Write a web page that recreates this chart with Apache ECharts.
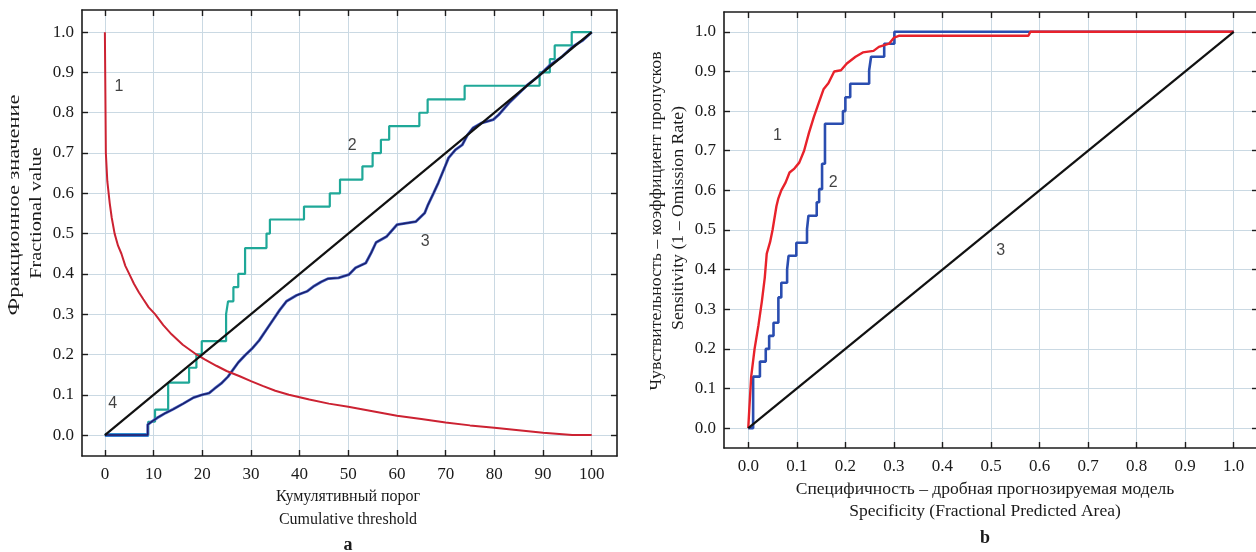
<!DOCTYPE html>
<html>
<head>
<meta charset="utf-8">
<script src="https://cdn.jsdelivr.net/npm/echarts@6/dist/echarts.min.js"></script>
<style>
html,body{margin:0;padding:0;background:#fff;}
#main{width:1256px;height:552px;}
</style>
</head>
<body>
<div id="main"></div>
<script>
// ---------- DATA ----------
const leftXTicks = [0,10,20,30,40,50,60,70,80,90,100];
const leftYTicks = [0,0.1,0.2,0.3,0.4,0.5,0.6,0.7,0.8,0.9,1.0];
const rightXTicks = [0,0.1,0.2,0.3,0.4,0.5,0.6,0.7,0.8,0.9,1.0];
const rightYTicks = [0,0.1,0.2,0.3,0.4,0.5,0.6,0.7,0.8,0.9,1.0];

// Panel a: curve 1 (red, fractional value)
const aCurve1 = [[0,1],[0.1,0.85],[0.2,0.7],[0.5,0.63],[1,0.575],[1.4,0.54],[2,0.5],[2.7,0.47],[3.4,0.45],[4.2,0.42],[5,0.4],[6,0.375],[7,0.354],[7.9,0.337],[9,0.317],[10.3,0.3],[12,0.273],[13.7,0.25],[16,0.224],[18.8,0.2],[20.5,0.188],[22.9,0.172],[25,0.159],[27.7,0.146],[30,0.134],[32.4,0.122],[35,0.11],[37.8,0.1],[42,0.088],[46,0.078],[50,0.07],[55,0.059],[60,0.048],[65,0.04],[70,0.031],[75,0.024],[80,0.018],[85,0.012],[90,0.006],[94,0.002],[96,0],[100,0]];
// Panel a: curve 2 (teal, step: [x where value jumps, new value])
const aCurve2 = [[0,0],[8.9,0.033],[10.3,0.063],[13,0.13],[17.3,0.167],[18.8,0.2],[19.9,0.233],[24.9,0.3],[25.3,0.332],[26.4,0.367],[27.4,0.4],[28.8,0.464],[33.2,0.5],[33.9,0.535],[40.9,0.567],[46.2,0.6],[48.3,0.634],[52.9,0.667],[55,0.7],[56.7,0.733],[58.4,0.767],[64.6,0.8],[66.3,0.833],[73.9,0.867],[89.3,0.9],[91.4,0.933],[92.4,0.967],[95.9,1.0],[100,1.0]];
// Panel a: curve 3 (navy)
const aCurve3 = [[0,0],[8.8,0],[8.8,0.026],[9.7,0.034],[10.8,0.043],[12.5,0.055],[14,0.064],[16.1,0.078],[18.2,0.093],[20,0.1],[21.4,0.104],[22.5,0.115],[23.9,0.128],[25.3,0.145],[26,0.157],[27.4,0.18],[28.8,0.198],[30.2,0.214],[31.7,0.235],[33.1,0.26],[34.5,0.285],[35.9,0.31],[37.3,0.332],[39.4,0.347],[41.6,0.357],[43,0.37],[44.4,0.38],[45.8,0.388],[48,0.39],[50.1,0.398],[51.5,0.415],[53.6,0.427],[54.7,0.452],[55.7,0.478],[57.9,0.493],[60,0.522],[63.9,0.53],[65.7,0.551],[66.4,0.572],[67.5,0.6],[68.5,0.626],[69.9,0.667],[70.6,0.688],[72,0.708],[73.4,0.72],[74.5,0.745],[75.6,0.762],[77.3,0.774],[79.8,0.783],[80.9,0.795],[83,0.824],[84.8,0.845],[86.9,0.87],[89,0.89],[91.5,0.919],[94,0.94],[96.1,0.964],[98.2,0.98],[100,1]];
// Panel a: light-blue baseline segment
const aBase = [[0,0],[9,0]];
// Panel a: curve 4 (black diagonal)
const aCurve4 = [[0,0],[100,1]];
// Panel a: curve number labels [x, y, text]
const aLabels = [[2.9,0.865,'1'],[50.8,0.718,'2'],[65.8,0.479,'3'],[1.6,0.078,'4']];

// Panel b: curve 1 (red ROC)
const bCurve1 = [[0,0],[0.002,0.046],[0.006,0.13],[0.013,0.2],[0.021,0.26],[0.028,0.32],[0.034,0.38],[0.038,0.44],[0.045,0.47],[0.05,0.5],[0.058,0.56],[0.062,0.58],[0.068,0.6],[0.077,0.62],[0.085,0.645],[0.095,0.655],[0.105,0.67],[0.115,0.7],[0.125,0.745],[0.135,0.785],[0.145,0.82],[0.155,0.855],[0.165,0.87],[0.177,0.9],[0.191,0.903],[0.203,0.92],[0.221,0.937],[0.236,0.948],[0.258,0.952],[0.269,0.962],[0.29,0.97],[0.3,0.985],[0.31,0.99],[0.577,0.99],[0.581,1.0],[1.0,1.0]];
// Panel b: curve 2 (blue, step)
const bCurve2 = [[0,0],[0.01,0.13],[0.024,0.168],[0.036,0.2],[0.043,0.233],[0.052,0.266],[0.062,0.33],[0.068,0.367],[0.08,0.4],[0.083,0.435],[0.099,0.468],[0.121,0.502],[0.124,0.536],[0.141,0.57],[0.146,0.603],[0.152,0.667],[0.158,0.768],[0.195,0.8],[0.2,0.835],[0.21,0.869],[0.249,0.903],[0.253,0.937],[0.28,0.97],[0.301,1.0],[1.0,1.0]];
// Panel b: curve 3 (black diagonal)
const bCurve3 = [[0,0],[1,1]];
const bLabels = [[0.06,0.737,'1'],[0.175,0.62,'2'],[0.52,0.447,'3']];

// Titles
const aXTitle = ['Кумулятивный порог','Cumulative threshold'];
const aYTitle = ['Фракционное значение','Fractional value'];
const bXTitle = ['Специфичность – дробная прогнозируемая модель','Specificity (Fractional Predicted Area)'];
const bYTitle = ['Чувствительность – коэффициент пропусков','Sensitivity (1 – Omission Rate)'];
const panelTags = ['a','b'];

// ---------- CHART ----------
const serif = '"Liberation Serif","Times New Roman",serif';
const sans = '"Liberation Sans",Arial,sans-serif';
const frameColor = '#1c1c1c';
const gridColor = '#cad9e3';

function axis(kind, gridIndex, min, max, ticks, fmt, position, main) {
  return {
    type: 'value', gridIndex, min, max, position,
    axisLine: {show: true, onZero: false, lineStyle: {color: frameColor, width: 1.6}},
    axisTick: {show: true, inside: true, length: 6, customValues: ticks, lineStyle: {color: frameColor, width: 1.4}},
    axisLabel: {show: main, customValues: ticks, formatter: fmt, fontFamily: serif, fontSize: 17, color: '#1a1a1a',
      margin: kind === 'x' ? 10 : 8},
    splitLine: {show: main, lineStyle: {color: gridColor, width: 1}},
    silent: true
  };
}
const f0 = v => String(Math.round(v));
const f1 = v => v.toFixed(1);

const chart = echarts.init(document.getElementById('main'), null, {renderer: 'canvas'});

function line(name, xi, data, color, width, step, z) {
  return {type: 'line', name, xAxisIndex: xi, yAxisIndex: xi, data, showSymbol: false, symbol: 'none',
    step: step || false, lineStyle: {color, width}, z: z || 2, silent: true, animation: false};
}
function labels(xi, data) {
  return {type: 'scatter', xAxisIndex: xi, yAxisIndex: xi, data, symbolSize: 1,
    itemStyle: {color: 'transparent'}, z: 10, silent: true,
    label: {show: true, position: 'inside', formatter: p => p.data[2], fontFamily: sans, fontSize: 16, color: '#111'}};
}
function vtext(x, y, text, scale) {
  return {type: 'text', x, y, rotation: Math.PI / 2, scaleX: scale, scaleY: 1, silent: true,
    style: {text, fontFamily: serif, fontSize: 16, fill: '#1a1a1a', align: 'center', verticalAlign: 'middle'}};
}
function htext(x, y, text, size, bold) {
  return {type: 'text', x, y, silent: true,
    style: {text, fontFamily: serif, fontSize: size, fontWeight: bold ? 'bold' : 'normal', fill: '#1a1a1a', align: 'center', verticalAlign: 'middle'}};
}

chart.setOption({
  animation: false,
  backgroundColor: '#fff',
  grid: [
    {left: 82, right: 639, top: 10, bottom: 96, outerBoundsMode: 'none', containLabel: false},
    {left: 724, right: -2, top: 12, bottom: 104, outerBoundsMode: 'none', containLabel: false}
  ],
  xAxis: [
    axis('x', 0, -4.7, 105.2, leftXTicks, f0, 'bottom', true),
    axis('x', 1, -0.05, 1.05, rightXTicks, f1, 'bottom', true),
    axis('x', 0, -4.7, 105.2, leftXTicks, f0, 'top', false),
    axis('x', 1, -0.05, 1.05, rightXTicks, f1, 'top', false)
  ],
  yAxis: [
    axis('y', 0, -0.052, 1.055, leftYTicks, f1, 'left', true),
    axis('y', 1, -0.05, 1.05, rightYTicks, f1, 'left', true),
    axis('y', 0, -0.052, 1.055, leftYTicks, f1, 'right', false),
    axis('y', 1, -0.05, 1.05, rightYTicks, f1, 'right', false)
  ],
  series: [
    line('a2', 0, aCurve2, '#1fa898', 2.2, 'end', 2),
    line('a0', 0, aBase, '#2a9fd8', 4, false, 3),
    line('a3h', 0, aCurve3, '#4662c2', 2.8, false, 3),
    line('a3', 0, aCurve3, '#1a1f6a', 1.4, false, 4),
    line('a1', 0, aCurve1, '#cc2232', 2, false, 5),
    line('a4', 0, aCurve4, '#111111', 2.2, false, 6),
    labels(0, aLabels),
    line('b2', 1, bCurve2, '#2a4db0', 2.6, 'end', 3),
    line('b1', 1, bCurve1, '#e8222b', 2.4, false, 4),
    line('b3', 1, bCurve3, '#111111', 2.2, false, 5),
    labels(1, bLabels)
  ],
  graphic: [
    vtext(15, 205, aYTitle[0], 1.4),
    vtext(37, 213, aYTitle[1], 1.27),
    htext(348, 497, aXTitle[0], 16),
    htext(348, 520, aXTitle[1], 16),
    htext(348, 545, panelTags[0], 18, true),
    vtext(657, 221, bYTitle[0], 1.11),
    vtext(679, 218, bYTitle[1], 1.11),
    htext(985, 489, bXTitle[0], 17.5),
    htext(985, 511, bXTitle[1], 17.5),
    htext(985, 538, panelTags[1], 18, true)
  ]
});
</script>
</body>
</html>
